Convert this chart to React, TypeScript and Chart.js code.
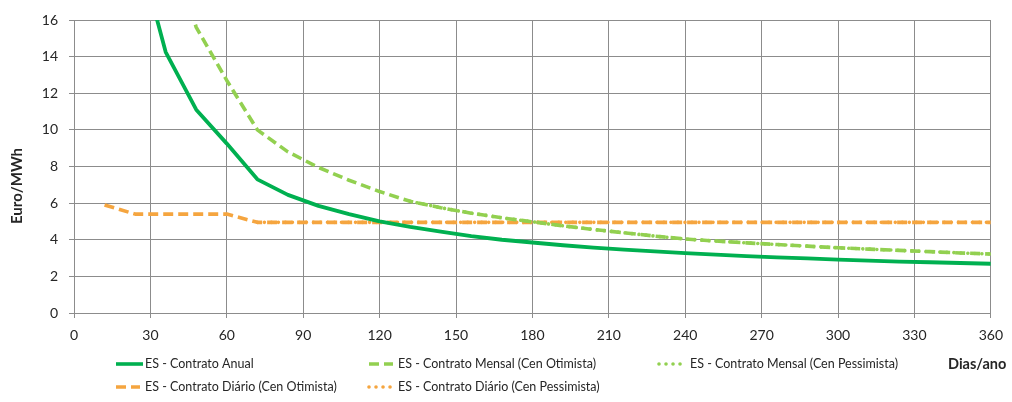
import React, { useEffect, useRef } from "react";
import { Chart, registerables } from "chart.js";

Chart.register(...registerables);

// ---- data ----
const days = [12, 24, 36, 48, 60, 72, 84, 96, 108, 120, 132, 144, 156, 168, 180, 192, 204, 216, 228, 240, 252, 264, 276, 288, 300, 312, 324, 336, 348, 360];

const anual = [41, 20.5, 14.25, 11.1, 9.25, 7.3, 6.45, 5.85, 5.4, 5.0, 4.7, 4.45, 4.2, 4.0, 3.85, 3.7, 3.57, 3.46, 3.36, 3.27, 3.19, 3.11, 3.04, 2.98, 2.92, 2.86, 2.81, 2.77, 2.73, 2.69];

const mensalOtim = [62, 31, 20.8, 15.6, 12.7, 10.0, 8.8, 7.95, 7.25, 6.63, 6.1, 5.75, 5.45, 5.2, 4.98, 4.76, 4.56, 4.38, 4.2, 4.04, 3.93, 3.83, 3.74, 3.65, 3.56, 3.49, 3.42, 3.35, 3.28, 3.22];

const mensalPess = [null, null, null, null, null, null, null, null, null, null, 6.1, 5.75, 5.45, 5.2, 4.98, 4.76, 4.56, 4.38, 4.2, 4.04, 3.93, 3.83, 3.74, 3.65, 3.56, 3.49, 3.42, 3.35, 3.28, 3.22];

const diarioOtim = [5.9, 5.4, 5.4, 5.4, 5.4, 4.95, 4.95, 4.95, 4.95, 4.95, 4.95, 4.95, 4.95, 4.95, 4.95, 4.95, 4.95, 4.95, 4.95, 4.95, 4.95, 4.95, 4.95, 4.95, 4.95, 4.95, 4.95, 4.95, 4.95, 4.95];

const diarioPess = [null, null, null, null, null, 4.95, 4.95, 4.95, 4.95, 4.95, 4.95, 4.95, 4.95, 4.95, 4.95, 4.95, 4.95, 4.95, 4.95, 4.95, 4.95, 4.95, 4.95, 4.95, 4.95, 4.95, 4.95, 4.95, 4.95, 4.95];

const seriesNames = [
  "ES - Contrato Anual",
  "ES - Contrato Mensal (Cen Otimista)",
  "ES - Contrato Mensal (Cen Pessimista)",
  "ES - Contrato Diário (Cen Otimista)",
  "ES - Contrato Diário (Cen Pessimista)",
];

const yTitle = "Euro/MWh";
const xTitle = "Dias/ano";

// ---- styles ----
const DARK_GREEN = "#00b050";
const LIGHT_GREEN = "#92d050";
const ORANGE = "#f5a53f";
const GRID = "#8c8c8c";
const TEXT = "#262626";
const FONT = "Lato, 'Open Sans', sans-serif";
const LW = 3.6;
const DASH = [10, 5];
const DOT = [0.01, 7];

const toPts = (arr: (number | null)[]) => days.map((d, i) => ({ x: d, y: arr[i] }));

export default function App() {
  const ref = useRef<HTMLCanvasElement>(null);

  useEffect(() => {
    document.body.style.margin = "0";
    const canvas = ref.current!;

    const legendPlugin = {
      id: "customLegend",
      afterDraw(chart: any) {
        const c = chart.ctx as CanvasRenderingContext2D;
        c.save();
        c.font = `12.5px ${FONT}`;
        c.fillStyle = TEXT;
        c.textBaseline = "middle";
        const drawSample = (x1: number, x2: number, y: number, color: string, dash: number[], cap: CanvasLineCap) => {
          c.save();
          c.strokeStyle = color;
          c.lineWidth = LW;
          c.setLineDash(dash);
          c.lineCap = cap;
          c.beginPath();
          c.moveTo(x1, y);
          c.lineTo(x2, y);
          c.stroke();
          c.restore();
        };
        const r1 = 364;
        const r2 = 387;
        drawSample(116, 143, r1, DARK_GREEN, [], "butt");
        c.fillText(seriesNames[0], 145, r1);
        drawSample(369, 393, r1, LIGHT_GREEN, DASH, "butt");
        c.fillText(seriesNames[1], 398, r1);
        drawSample(659, 685, r1, LIGHT_GREEN, DOT, "round");
        c.fillText(seriesNames[2], 690, r1);
        drawSample(116, 140, r2, ORANGE, DASH, "butt");
        c.fillText(seriesNames[3], 145, r2);
        drawSample(369, 393, r2, ORANGE, DOT, "round");
        c.fillText(seriesNames[4], 398, r2);

        c.font = `bold 14.5px ${FONT}`;
        c.fillText(xTitle, 948, r1);

        // y title
        c.save();
        c.font = `bold 15px ${FONT}`;
        c.translate(17.5, 186);
        c.rotate(-Math.PI / 2);
        c.textAlign = "center";
        c.fillText(yTitle, 0, 0);
        c.restore();
        c.restore();
      },
    };

    const chart = new Chart(canvas, {
      type: "line",
      data: {
        datasets: [
          { label: seriesNames[0], data: toPts(anual), borderColor: DARK_GREEN, borderWidth: 3.8, pointRadius: 0, tension: 0, borderJoinStyle: "round" },
          { label: seriesNames[1], data: toPts(mensalOtim), borderColor: LIGHT_GREEN, borderWidth: LW, borderDash: DASH, pointRadius: 0, tension: 0, borderJoinStyle: "round" },
          { label: seriesNames[2], data: toPts(mensalPess), borderColor: LIGHT_GREEN, borderWidth: LW, borderDash: DOT, borderCapStyle: "round", pointRadius: 0, tension: 0, borderJoinStyle: "round" },
          { label: seriesNames[3], data: toPts(diarioOtim), borderColor: ORANGE, borderWidth: LW, borderDash: DASH, pointRadius: 0, tension: 0, borderJoinStyle: "round" },
          { label: seriesNames[4], data: toPts(diarioPess), borderColor: ORANGE, borderWidth: LW, borderDash: DOT, borderCapStyle: "round", pointRadius: 0, tension: 0, borderJoinStyle: "round" },
        ] as any,
      },
      options: {
        animation: false,
        responsive: false,
        maintainAspectRatio: false,
        layout: { padding: { left: 0, top: 20, right: 18, bottom: 0 } },
        plugins: { legend: { display: false }, tooltip: { enabled: false }, title: { display: false } },
        scales: {
          x: {
            type: "linear",
            min: 0,
            max: 360,
            ticks: { stepSize: 30, color: TEXT, font: { family: FONT, size: 14 }, padding: 9, maxRotation: 0 },
            grid: { color: GRID, lineWidth: 1, tickLength: 5, drawTicks: true },
            border: { color: GRID, width: 1 },
            afterFit: (s: any) => { s.height = 402 - 313; },
          },
          y: {
            min: 0,
            max: 16,
            ticks: { stepSize: 2, color: TEXT, font: { family: FONT, size: 14 }, padding: 11 },
            grid: { color: GRID, lineWidth: 1, tickLength: 5, drawTicks: true },
            border: { color: GRID, width: 1 },
            afterFit: (s: any) => { s.width = 74; },
          },
        },
      } as any,
      plugins: [legendPlugin],
    });
    return () => chart.destroy();
  }, []);

  return (
    <div style={{ position: "relative", width: 1012, height: 402, background: "#fff" }}>
      <canvas ref={ref} width={1012} height={402} style={{ width: 1012, height: 402, display: "block" }} />
    </div>
  );
}
